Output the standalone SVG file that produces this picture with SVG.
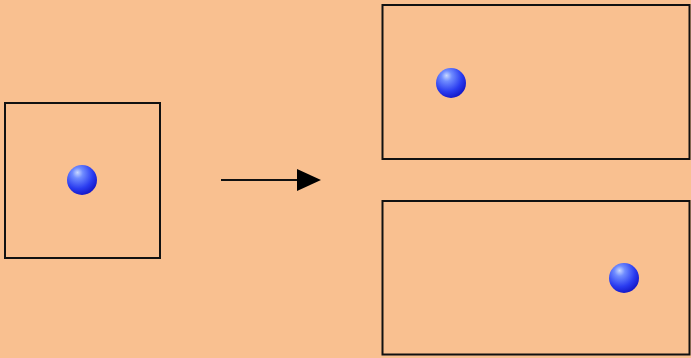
<svg xmlns="http://www.w3.org/2000/svg" width="691" height="358" viewBox="0 0 691 358">
  <style>
    .frame { fill: none; stroke: #111; stroke-width: 2; }
    .link { stroke: #111; stroke-width: 2; fill: none; }
    .ball { fill: url(#ballShade); }
  </style>
  <defs>
    <radialGradient id="ballShade" cx="0.38" cy="0.32" r="0.7" fx="0.35" fy="0.25">
      <stop offset="0" stop-color="#c8d8ff"/>
      <stop offset="0.25" stop-color="#6f8cff"/>
      <stop offset="0.7" stop-color="#2a3cf0"/>
      <stop offset="1" stop-color="#1418c8"/>
    </radialGradient>
    <marker id="head" viewBox="0 0 24 24" markerWidth="24" markerHeight="24" refX="0" refY="12" markerUnits="userSpaceOnUse" orient="auto">
      <path d="M0,1 L24,12 L0,23 Z" fill="#000"/>
    </marker>
  </defs>
  <rect width="691" height="358" fill="#f9c090"/>

  <g id="source">
    <rect class="frame" x="5" y="103" width="155" height="155"/>
    <circle class="ball" cx="82" cy="180" r="15"/>
  </g>

  <g id="result-top">
    <rect class="frame" x="382.5" y="5" width="307" height="154"/>
    <circle class="ball" cx="451" cy="83" r="15"/>
  </g>

  <g id="result-bottom">
    <rect class="frame" x="382.5" y="201" width="307" height="153.5"/>
    <circle class="ball" cx="624" cy="278" r="15"/>
  </g>

  <g id="connectors">
    <line class="link" x1="221" y1="180" x2="297" y2="180" marker-end="url(#head)"/>
  </g>
</svg>
